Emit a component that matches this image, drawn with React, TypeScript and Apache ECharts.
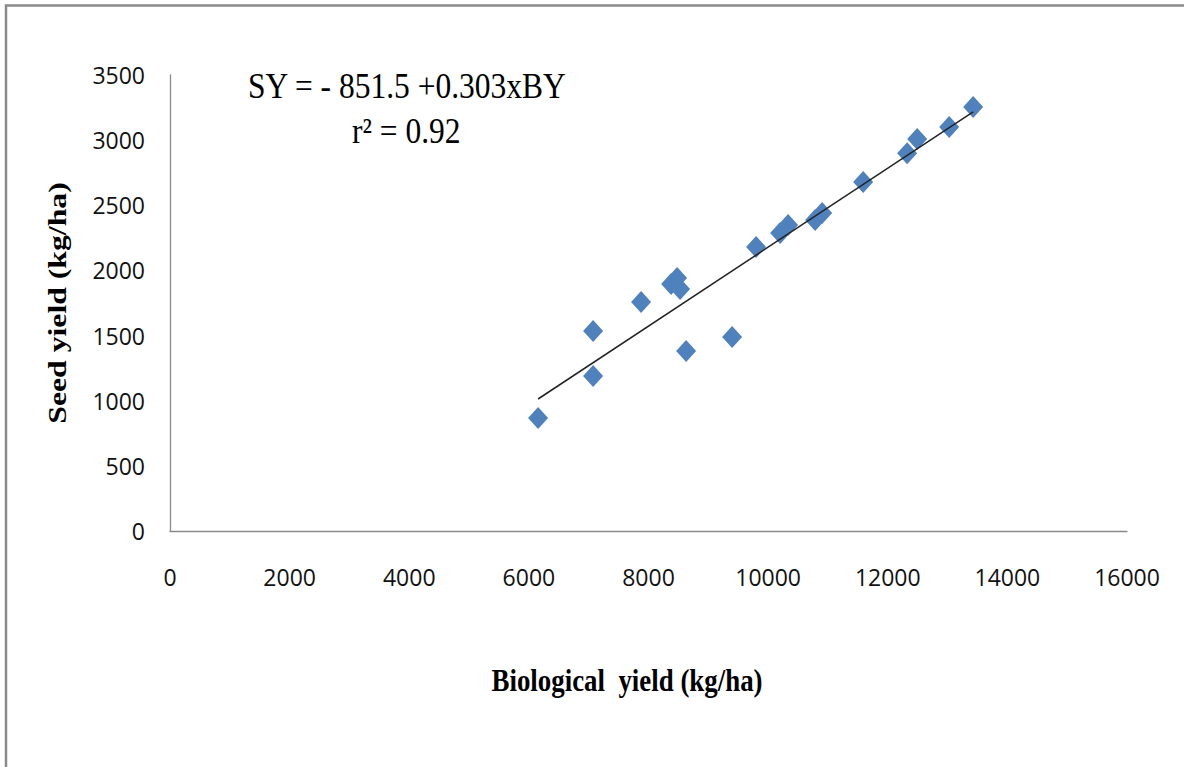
import React, { useEffect, useRef } from "react";
import * as echarts from "echarts";

const biologicalYield = [6154, 7074, 7074, 7876, 8378, 8478, 8528, 8629, 9398, 9799, 10201, 10334, 10786, 10903, 11589, 12324, 12492, 13027, 13428];
const seedYield = [867, 1535, 1190, 1757, 1896, 1942, 1857, 1381, 1489, 2180, 2287, 2348, 2387, 2440, 2678, 2900, 3008, 3100, 3254];
const intercept = -851.5;
const slope = 0.303;
const xTicks = { min: 0, max: 16000, interval: 2000 };
const yTicks = { min: 0, max: 3500, interval: 500 };
const equationText = "SY = - 851.5 +0.303xBY";
const r2Text = "r\u00B2 = 0.92";
const xTitle = "Biological  yield (kg/ha)";
const yTitle = "Seed yield (kg/ha)";

export default function App() {
  const ref = useRef<HTMLDivElement>(null);
  useEffect(() => {
    if (!ref.current) return;
    const chart = echarts.init(ref.current, null, { renderer: "svg" });
    const points = biologicalYield.map((x, i) => [x, seedYield[i]]);
    const xMin = Math.min(...biologicalYield);
    const xMax = Math.max(...biologicalYield);
    const trend = [
      [xMin, intercept + slope * xMin],
      [xMax, intercept + slope * xMax],
    ];
    const fmt = (v: number) => String(v);
    chart.setOption({
      animation: false,
      backgroundColor: "#ffffff",
      grid: { left: 170, top: 75, right: 57, bottom: 236, containLabel: false },
      xAxis: {
        type: "value",
        min: xTicks.min,
        max: xTicks.max,
        interval: xTicks.interval,
        splitLine: { show: false },
        axisTick: { show: false },
        axisLine: { show: true, lineStyle: { color: "#8a8a8a", width: 1.3 } },
        axisLabel: { color: "#111", fontFamily: "Open Sans", fontSize: 23, margin: 34, formatter: fmt },
      },
      yAxis: {
        type: "value",
        min: yTicks.min,
        max: yTicks.max,
        interval: yTicks.interval,
        splitLine: { show: false },
        axisTick: { show: false },
        axisLine: { show: true, lineStyle: { color: "#8a8a8a", width: 1.3 } },
        axisLabel: { color: "#111", fontFamily: "Open Sans", fontSize: 23, margin: 25, formatter: fmt },
      },
      series: [
        {
          type: "line",
          data: trend,
          symbol: "none",
          lineStyle: { color: "#222", width: 1.5 },
          z: 3,
        },
        {
          type: "scatter",
          data: points,
          symbol: "diamond",
          symbolSize: [20, 22],
          itemStyle: { color: "#4F81BD", opacity: 1 },
          z: 2,
        },
      ],
      graphic: [
        {
          type: "rect",
          shape: { x: 6, y: 5.5, width: 1400, height: 1000 },
          style: { fill: "none", stroke: "#8a8a8a", lineWidth: 2.5 },
          silent: true,
          z: -10,
        },
        {
          type: "text",
          x: 627,
          y: 680,
          scaleX: 0.84,
          style: {
            text: xTitle,
            font: "bold 32px 'Liberation Serif', 'Times New Roman', serif",
            fill: "#000",
            align: "center",
            verticalAlign: "middle",
          },
        },
        {
          type: "text",
          x: 57,
          y: 303,
          rotation: Math.PI / 2,
          scaleX: 1.22,
          style: {
            text: yTitle,
            font: "bold 26px 'Liberation Serif', 'Times New Roman', serif",
            fill: "#000",
            align: "center",
            verticalAlign: "middle",
          },
        },
        {
          type: "text",
          x: 248,
          y: 86,
          scaleX: 0.9,
          style: {
            text: equationText,
            font: "35px 'Liberation Serif', 'Times New Roman', serif",
            fill: "#000",
            align: "left",
            verticalAlign: "middle",
          },
        },
        {
          type: "text",
          x: 352,
          y: 131,
          scaleX: 0.9,
          style: {
            text: r2Text,
            font: "35px 'Liberation Serif', 'Times New Roman', serif",
            fill: "#000",
            align: "left",
            verticalAlign: "middle",
          },
        },
      ],
    });
    return () => chart.dispose();
  }, []);
  return (
    <div
      ref={ref}
      style={{ position: "fixed", left: 0, top: 0, width: 1184, height: 767 }}
    />
  );
}
